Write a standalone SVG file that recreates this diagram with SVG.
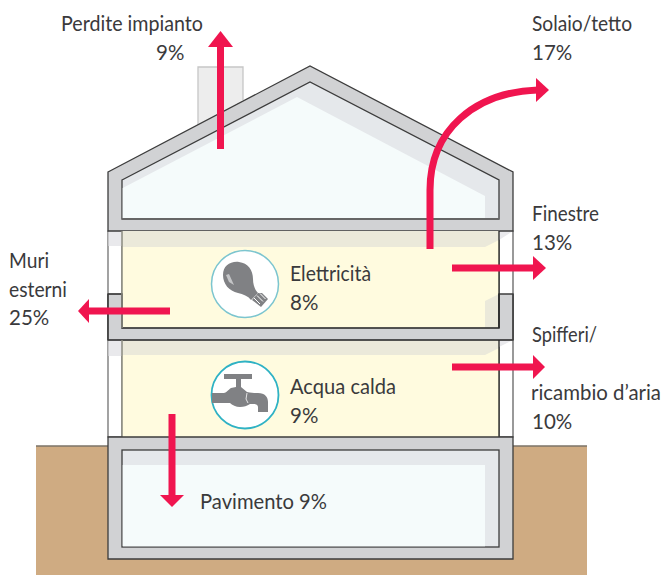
<svg xmlns="http://www.w3.org/2000/svg" width="663" height="575" viewBox="0 0 663 575">
<style>
text{font-family:"Lato","Noto Sans","Liberation Sans",sans-serif;font-size:20.500px;fill:#3a3a3c}
.wall{fill:#d1d2d4;stroke:#3c3c3c;stroke-width:1.3}
.arrow{fill:none;stroke:#f0154f;stroke-width:7}
.head{fill:#f0154f}
.air{fill:#f5fbfb}.airS{fill:#e5e8eb}.yel{fill:#fffbdf}.yelS{fill:#ebe9da}
.ico{fill:#808184}
</style>
<rect width="663" height="575" fill="#fff"/>
<g id="ground"><rect x="36" y="446" width="551" height="129" fill="#cfab82"/><path d="M36 446H108M513 446H587" stroke="#7c7468" stroke-width="1.500"/></g>
<g id="chimney"><path d="M198 125V67H243V100" fill="#ededed" stroke="#c6c6c6" stroke-width="1.300"/></g>
<g id="house">
<rect x="108" y="231" width="14" height="206" fill="#fff" stroke="#666" stroke-width="1.200"/>
<rect x="499" y="231" width="14" height="206" fill="#fff" stroke="#555" stroke-width="1.200"/>
<path d="M108.500 231H122V246H108.500Z" fill="#e9e9ec"/>
<path d="M108.500 340H122V356H108.500Z" fill="#e9e9ec"/>
<path d="M499 240L513 231H499ZM499 347L513 340H499Z" fill="#e9e9ec"/>
<path class="wall" d="M108 172L310 66L513 172V231H108Z"/>
<path class="airS" stroke="#3c3c3c" stroke-width="1.300" d="M122 180L310 82L499 180V219H122Z"/>
<path class="air" d="M122.700 188L297 97L485 196V218.300H122.700Z"/>
<path d="M122 219H499" stroke="#666" stroke-width="2" fill="none"/>
<rect class="yel" x="122" y="231" width="377" height="97"/>
<path class="yelS" d="M122 231H499V240L485 247H122Z"/>
<path class="yelS" d="M485 301L499 294V328H485Z"/>
<rect class="yel" x="122" y="340" width="377" height="97"/>
<path class="yelS" d="M122 340H499V348L485 355H122Z"/>
<path class="wall" d="M108 294H122V328H499V294H513V340H108Z" stroke="none"/>
<path d="M108 294H122V328H499V294M108 340H513M108 294V340M513 294V340" fill="none" stroke="#3c3c3c" stroke-width="1.200"/>
<path d="M122 231V328M122 340V437" stroke="#8a8a80" stroke-width="1.500" fill="none"/>
<path d="M499 231V328M499 340V437" stroke="#222" stroke-width="1.300" fill="none"/>
<path class="wall" d="M108 437H513V559H108Z"/>
<rect class="airS" x="122" y="450" width="377" height="97" stroke="#3c3c3c" stroke-width="1.300"/>
<rect class="air" x="122.700" y="465" width="362.300" height="81.300"/>
</g>
<g id="bulb">
<circle cx="245" cy="284" r="33.500" fill="#fff" stroke="#7cc5cf" stroke-width="1.500"/>
<path class="ico" d="M223 275C223 266 230 261 239 262C248 263 253 270 253 279C253 285 255 290 258 293L251 300C248 296 243 294 238 293C229 291 223 284 223 275Z"/>
<path d="M226 275L229 274L234 285L229 282Z" fill="#c4c5c7"/>
<path class="ico" d="M258 293L262 293L268 299L261 307L252 300Z"/>
<path d="M254 298L260 304M257 295.500L263 301.500M260 293.500L265.500 299" stroke="#fff" stroke-width="1" fill="none"/>
</g>
<g id="tap">
<circle cx="245" cy="395" r="33.500" fill="#fff" stroke="#2fb2c4" stroke-width="1.800"/>
<path class="ico" d="M224 374H252V379H241V387L247 392C252 393 255 393 258 393C265 393 268 397 268 402V412H258V407C258 405 256 404 254 404H250C247 406 244 407 240 407C236 407 232 405 230 403H212V393H224C226 393 228 390 231 388L236 387V379H224Z"/>
<path d="M247 393L246 399L248 403" stroke="#fff" stroke-width="0.800" fill="none"/>
</g>
<g id="connectors">
<path class="arrow" d="M220.500 149V44"/><path class="head" d="M220.500 31L233 47H208Z"/>
<path class="arrow" d="M430 249V190C430 130 475 92 538 90"/><path class="head" d="M549 90L536 78V102Z"/>
<path class="arrow" d="M452 268H535"/><path class="head" d="M546 268L533 256V280Z"/>
<path class="arrow" d="M452 367H535"/><path class="head" d="M545 367L533 355V379Z"/>
<path class="arrow" d="M170 311H88"/><path class="head" d="M78 311L89 299V323Z"/>
<path class="arrow" d="M172 414V497"/><path class="head" d="M172 507L160 495H184Z"/>
</g>
<g id="labels">
<text x="61" y="31" textLength="142" lengthAdjust="spacingAndGlyphs">Perdite impianto</text><text x="156" y="60">9%</text>
<text x="532" y="31" textLength="100" lengthAdjust="spacingAndGlyphs">Solaio/tetto</text><text x="532" y="60">17%</text>
<text x="532" y="221" textLength="67" lengthAdjust="spacingAndGlyphs">Finestre</text><text x="532" y="250">13%</text>
<text x="532" y="342" textLength="65" lengthAdjust="spacingAndGlyphs">Spifferi/</text>
<text x="531" y="400" textLength="130" lengthAdjust="spacingAndGlyphs">ricambio d’aria</text><text x="532" y="429">10%</text>
<text x="9" y="268" textLength="40" lengthAdjust="spacingAndGlyphs">Muri</text><text x="9" y="297" textLength="58" lengthAdjust="spacingAndGlyphs">esterni</text><text x="9" y="325">25%</text>
<text x="290" y="281" textLength="81" lengthAdjust="spacingAndGlyphs">Elettricità</text><text x="290" y="310">8%</text>
<text x="290" y="394" textLength="106" lengthAdjust="spacingAndGlyphs">Acqua calda</text><text x="290" y="423">9%</text>
<text x="200" y="509" textLength="127" lengthAdjust="spacingAndGlyphs">Pavimento 9%</text>
</g>
</svg>
